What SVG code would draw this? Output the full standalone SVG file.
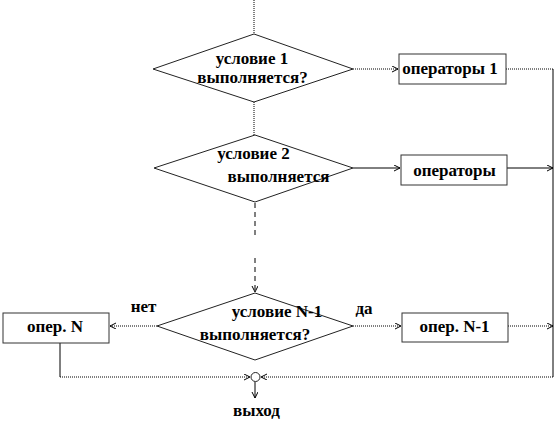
<svg xmlns="http://www.w3.org/2000/svg" width="556" height="438" viewBox="0 0 556 438">
<style>
.shape{fill:#fff;stroke:#222;stroke-width:1}
.box{fill:#fff;stroke:#333;stroke-width:1}
.t{font-family:"Liberation Serif","Times New Roman",serif;font-weight:bold;font-size:17px;fill:#000;text-anchor:middle}
.ln{fill:none;stroke:#000;stroke-width:1}
.dot{stroke-dasharray:1 1}
.dash{stroke-dasharray:5 4}
</style>
<defs>
<marker id="ar" markerUnits="userSpaceOnUse" markerWidth="8" markerHeight="8" refX="6" refY="3" orient="auto">
<path d="M0,0 L6,3 L0,6" fill="none" stroke="#000" stroke-width="1"/>
</marker>
</defs>
<rect width="556" height="438" fill="#fff"/>
<g id="connectors">
<path class="ln dot" d="M254,0 V34"/>
<path class="ln dot" d="M353,69 H398" marker-end="url(#ar)"/>
<path class="ln dot" d="M506,69 H553"/>
<path class="ln dot" d="M254,102 V135"/>
<path class="ln" d="M353,168 H400" marker-end="url(#ar)"/>
<path class="ln" d="M507,168 H553" marker-end="url(#ar)"/>
<path class="ln dash" d="M255,203 V236"/>
<path class="ln dash" d="M255,258 V292" marker-end="url(#ar)"/>
<path class="ln dot" d="M157,326 H110" marker-end="url(#ar)"/>
<path class="ln dot" d="M353,326 H401" marker-end="url(#ar)"/>
<path class="ln dot" d="M508,326 H553" marker-end="url(#ar)"/>
<path class="ln" d="M553,69 V377"/>
<path class="ln" d="M60,343 V377"/>
<path class="ln dot" d="M60,377 H250" marker-end="url(#ar)"/>
<path class="ln dot" d="M553,377 H261" marker-end="url(#ar)"/>
<path class="ln" d="M255,382 V398" marker-end="url(#ar)"/>
</g>
<g id="cond1">
<polygon class="shape" points="254,34 353,69 254,102 153,69"/>
<text class="t" x="252" y="64">условие 1</text>
<text class="t" x="252.5" y="83">выполняется?</text>
</g>
<g id="ops1">
<rect class="box" x="399" y="54" width="107" height="30"/>
<text class="t" x="450" y="74">операторы 1</text>
</g>
<g id="cond2">
<polygon class="shape" points="255,135 353,168 255,202 154,168"/>
<text class="t" x="253.5" y="159">условие 2</text>
<text class="t" x="278.5" y="182">выполняется</text>
</g>
<g id="ops2">
<rect class="box" x="401" y="155" width="106" height="30"/>
<text class="t" x="454.5" y="176">операторы</text>
</g>
<g id="condN1">
<polygon class="shape" points="255,293 353,326 255,360 157,326"/>
<text class="t" x="277" y="317">условие N-1</text>
<text class="t" x="255" y="340">выполняется?</text>
</g>
<g id="opN">
<rect class="box" x="3" y="313" width="106" height="30"/>
<text class="t" x="55" y="332">опер. N</text>
</g>
<g id="opN1">
<rect class="box" x="402" y="313" width="106" height="29"/>
<text class="t" x="454.5" y="332">опер. N-1</text>
</g>
<g id="labels">
<text class="t" x="143.5" y="312">нет</text>
<text class="t" x="364" y="314">да</text>
</g>
<g id="exit">
<circle class="shape" cx="255.5" cy="377" r="4.5"/>
<text class="t" x="256.5" y="416">выход</text>
</g>
</svg>
